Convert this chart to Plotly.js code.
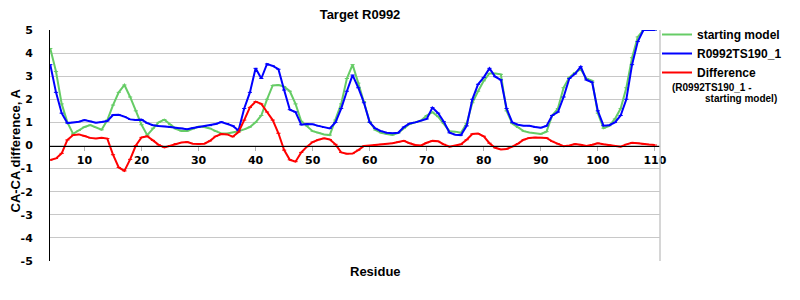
<!DOCTYPE html>
<html>
<head>
<meta charset="utf-8">
<script src="https://cdn.plot.ly/plotly-3.0.1.min.js"></script>
<style>html,body{margin:0;padding:0;background:#fff;}#chart{width:800px;height:300px;}</style>
</head>
<body>
<div id="chart"></div>
<script>
const residues = [];
for (let r = 4; r <= 110; r++) residues.push(r);

const startingModel = [
 4.2, 3.2, 1.8, 1.0, 0.5, 0.65, 0.8, 0.88, 0.78, 0.68,
 1.1, 1.75, 2.3, 2.62, 2.1, 1.5, 0.9, 0.45, 0.75, 1.0,
 1.12, 0.9, 0.72, 0.63, 0.63, 0.72, 0.82, 0.8, 0.74, 0.62,
 0.52, 0.52, 0.56, 0.62, 0.7, 0.8, 1.0, 1.3, 2.0, 2.6,
 2.62, 2.55, 2.35, 1.8, 1.05, 0.85, 0.62, 0.55, 0.48, 0.45,
 1.1, 1.8, 2.9, 3.5, 2.7, 1.9, 1.03, 0.67, 0.55, 0.5,
 0.46, 0.55, 0.75, 0.93, 1.0, 1.08, 1.3, 1.44, 1.25, 0.95,
 0.62, 0.6, 0.55, 0.95, 1.85, 2.35, 2.8, 3.12, 3.12, 3.08,
 1.5, 0.95, 0.78, 0.62, 0.56, 0.52, 0.5, 0.6, 1.3, 1.6,
 2.5, 2.95, 3.15, 3.3, 2.9, 2.8, 1.4, 0.75, 0.85, 1.15,
 1.6, 2.5, 3.8, 4.7, 5.0, 5.0, 5.0
];

const modelTS190 = [
 3.5, 2.3, 1.4, 0.97, 1.0, 1.03, 1.1, 1.05, 0.99, 1.02,
 1.06, 1.32, 1.33, 1.25, 1.13, 1.1, 1.12, 0.97, 0.88, 0.84,
 0.83, 0.8, 0.77, 0.75, 0.7, 0.76, 0.8, 0.82, 0.86, 0.93,
 1.02, 0.95, 0.85, 0.65, 1.6, 2.3, 3.34, 2.9, 3.53, 3.45,
 3.3, 2.4, 1.55, 1.45, 0.9, 0.93, 0.92, 0.85, 0.78, 0.74,
 1.0, 1.6, 2.35, 3.05, 2.5, 1.85, 1.0, 0.74, 0.62, 0.55,
 0.53, 0.55, 0.8, 0.95, 1.0, 1.08, 1.15, 1.64, 1.4, 1.03,
 0.55, 0.47, 0.45, 0.85, 2.0, 2.65, 2.95, 3.34, 2.98, 2.84,
 1.6, 1.0, 0.9, 0.86, 0.85, 0.8, 0.77, 0.85, 1.3, 1.45,
 2.1, 2.9, 3.1, 3.41, 2.84, 2.74, 1.5, 0.86, 0.88, 1.0,
 1.3, 2.0, 3.5, 4.5, 5.0, 5.0, 5.0
];

const difference = [
 -0.63, -0.56, -0.34, 0.24, 0.45, 0.48, 0.41, 0.33, 0.3, 0.33,
 0.3, -0.4, -0.95, -1.1, -0.6, 0.0, 0.35, 0.4, 0.22, 0.03,
 -0.08, 0.0, 0.08, 0.13, 0.15, 0.08, 0.06, 0.08, 0.2, 0.4,
 0.5, 0.48, 0.38, 0.58, 1.1, 1.65, 1.9, 1.8, 1.45, 1.1,
 0.53, -0.2, -0.62, -0.7, -0.3, -0.05, 0.15, 0.25, 0.31, 0.26,
 0.05, -0.3, -0.36, -0.35, -0.2, -0.02, 0.0, 0.02, 0.05, 0.08,
 0.1, 0.15, 0.2, 0.1, 0.02, 0.0, 0.12, 0.2, 0.18, 0.05,
 -0.05, 0.0, 0.05, 0.25, 0.5, 0.52, 0.4, 0.1, -0.1, -0.17,
 -0.15, -0.05, 0.08, 0.25, 0.33, 0.35, 0.35, 0.33, 0.18, 0.07,
 -0.03, 0.0, 0.06, 0.03, -0.02, 0.03, 0.1, 0.05, 0.02, -0.03,
 -0.05, 0.05, 0.12, 0.1, 0.06, 0.04, 0.02
];

const seriesNames = ['starting model', 'R0992TS190_1', 'Difference'];
const seriesColors = ['#66CC66', '#0000FF', '#FF0000'];
const seriesValues = [startingModel, modelTS190, difference];
const xTicks = [10, 20, 30, 40, 50, 60, 70, 80, 90, 100, 110];
const yTicks = [-5, -4, -3, -2, -1, 0, 1, 2, 3, 4, 5];

const traces = seriesValues.map((vals, i) => ({
  x: residues,
  y: vals,
  type: 'scatter',
  mode: 'lines+markers',
  name: seriesNames[i],
  line: {color: seriesColors[i], width: 2},
  marker: {color: seriesColors[i], size: 3, symbol: 'line-ew-open', line: {color: seriesColors[i], width: 1}},
  cliponaxis: true
}));

const labelFont = {family: 'DejaVu Sans', size: 11, color: '#000', weight: 'bold'};
const textFont = {family: 'Liberation Sans, Arial, sans-serif', size: 13, color: '#000', weight: 'bold'};
const subFont = {family: 'Liberation Sans, Arial, sans-serif', size: 10, color: '#000', weight: 'bold'};

const layout = {
  width: 800, height: 300,
  margin: {l: 50, r: 140, t: 30, b: 39, pad: 0},
  paper_bgcolor: '#fff', plot_bgcolor: '#fff',
  title: {text: '<b>Target R0992</b>', font: {family: 'Liberation Sans, Arial, sans-serif', size: 13, color: '#000'}, x: 360/800, xanchor: 'center', y: 1 - 14/300, yanchor: 'middle'},
  showlegend: true,
  legend: {
    x: (657 - 50) / 610, xanchor: 'left',
    y: 1 + 10/231, yanchor: 'top',
    font: {family: 'Liberation Sans, Arial, sans-serif', size: 12, color: '#000', weight: 'bold'},
    bgcolor: 'rgba(0,0,0,0)', borderwidth: 0, tracegroupgap: 0, itemwidth: 30
  },
  xaxis: {
    range: [3.95, 110.9],
    tickmode: 'array', tickvals: xTicks, ticktext: xTicks.map(String),
    anchor: 'free', position: 0.5,
    showline: true, linecolor: '#000', linewidth: 1,
    showgrid: false, zeroline: false,
    ticks: 'outside', ticklen: 4, tickcolor: '#b0b0b0', tickwidth: 1,
    tickfont: labelFont,
    fixedrange: true
  },
  yaxis: {
    range: [-5, 5], domain: [0, 1],
    tickmode: 'array', tickvals: yTicks, ticktext: yTicks.map(v => v < 0 ? '-' + Math.abs(v) : String(v)),
    showline: true, linecolor: '#000', linewidth: 1,
    showgrid: true, gridcolor: '#C8C8C8', gridwidth: 1,
    zeroline: false, ticks: '', ticklabelstandoff: 14,
    tickfont: labelFont,
    fixedrange: true
  },
  shapes: [
    {type: 'line', xref: 'paper', yref: 'paper', x0: 1, x1: 1, y0: 0, y1: 1, line: {color: '#C8C8C8', width: 1.5}}
  ],
  annotations: [
    {text: 'CA-CA difference, A', xref: 'paper', yref: 'paper', x: 0, y: 0.5, xshift: -35, yshift: -5, textangle: -90, showarrow: false, font: textFont, xanchor: 'center', yanchor: 'middle'},
    {text: 'Residue', xref: 'paper', yref: 'paper', x: (375 - 50) / 610, y: 0, yshift: -10, showarrow: false, font: textFont, xanchor: 'center', yanchor: 'middle'},
    {text: '(R0992TS190_1 -', xref: 'paper', yref: 'paper', x: (670 - 50) / 610, y: 1 - (87 - 30) / 231, showarrow: false, font: subFont, xanchor: 'left', yanchor: 'middle'},
    {text: 'starting model)', xref: 'paper', yref: 'paper', x: (703 - 50) / 610, y: 1 - (98 - 30) / 231, showarrow: false, font: subFont, xanchor: 'left', yanchor: 'middle'}
  ]
};

Plotly.newPlot('chart', traces, layout, {staticPlot: true, displayModeBar: false});
</script>
</body>
</html>
